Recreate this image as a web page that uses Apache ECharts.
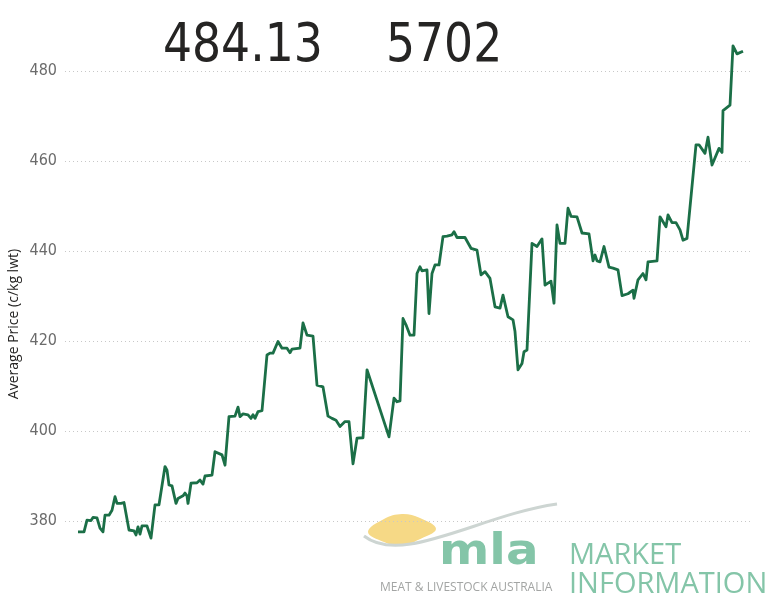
<!DOCTYPE html>
<html>
<head>
<meta charset="utf-8">
<script src="https://cdn.jsdelivr.net/npm/echarts@6/dist/echarts.min.js"></script>
<style>
  html, body { margin: 0; padding: 0; background: #fff; }
  #chart { width: 779px; height: 600px; }
</style>
</head>
<body>
<div id="chart"></div>
<script>
// Day index (relative) of each observation
const days = [0, 6, 9, 11, 13, 15, 19, 22, 25, 27, 31, 34, 37, 39, 43, 46, 51, 56, 58, 60,
  62, 64, 69, 73, 77, 81, 87, 89, 91, 94, 98, 100, 105, 107, 109, 110, 113, 119, 122, 125,
  127, 134, 137, 144, 147, 151, 157, 160, 162, 165, 170, 173, 175, 177, 180, 184, 189, 192, 195, 200,
  204, 209, 212, 214, 222, 225, 229, 235, 239, 245, 250, 254, 258, 262, 267, 271, 275, 279, 285, 289,
  311, 316, 319, 322, 325, 328, 332, 336, 339, 342, 344, 349, 351, 354, 357, 361, 365, 369, 374, 376,
  379, 387, 393, 399, 403, 407, 412, 417, 422, 425, 430, 435, 437, 440, 444, 446, 449, 454, 459, 464,
  467, 473, 476, 479, 482, 487, 490, 493, 499, 504, 511, 515, 517, 519, 522, 526, 531, 535, 540, 544,
  550, 555, 556, 560, 565, 568, 570, 579, 582, 588, 590, 594, 598, 602, 605, 609, 618, 621, 627, 630,
  634, 641, 644, 645, 652, 655, 659, 665];
// Average price (c/kg lwt)
const prices = [377.6, 377.6, 380.2, 380.6, 380.1, 380.8, 380.7, 378.4, 377.6, 381.3, 381.3, 382.4, 385.4, 383.9, 383.9, 384.1, 378.0, 377.8, 376.9, 378.7,
  377.1, 378.9, 378.9, 376.2, 383.6, 383.6, 392.1, 391.3, 388.0, 387.8, 383.9, 385.0, 385.6, 386.2, 385.6, 383.9, 388.4, 388.5, 389.1, 388.2,
  390.0, 390.2, 395.4, 394.7, 392.4, 403.2, 403.3, 405.3, 403.2, 403.8, 403.6, 402.8, 403.6, 402.8, 404.3, 404.5, 416.9, 417.3, 417.3, 419.9,
  418.4, 418.4, 417.4, 418.2, 418.4, 424.0, 421.3, 421.1, 410.2, 409.8, 403.3, 402.8, 402.4, 401.0, 402.1, 402.1, 392.7, 398.4, 398.5, 413.6,
  398.7, 407.3, 406.5, 406.7, 425.0, 423.6, 421.3, 421.3, 435.0, 436.5, 435.6, 435.8, 426.1, 435.0, 436.9, 436.9, 443.2, 443.3, 443.6, 444.3,
  443.0, 443.0, 440.6, 440.2, 434.7, 435.4, 433.9, 427.6, 427.3, 430.2, 425.4, 424.7, 422.1, 413.6, 415.0, 417.6, 418.0, 441.7, 441.0, 442.7,
  432.4, 433.3, 428.4, 445.8, 441.7, 441.7, 449.5, 447.7, 447.6, 444.0, 443.8, 437.8, 439.1, 437.8, 437.6, 441.0, 436.4, 436.2, 435.8, 430.1,
  430.5, 431.3, 429.5, 433.6, 435.0, 433.6, 437.6, 437.8, 447.6, 445.4, 448.0, 446.3, 446.3, 444.7, 442.4, 442.8, 463.6, 463.6, 461.7, 465.3,
  459.1, 462.8, 461.9, 471.2, 472.4, 485.6, 483.8, 484.4];
const yTicks = [380, 400, 420, 440, 460, 480];
const headlinePrice = '484.13';
const headlineHead = '5702';
const yAxisTitle = 'Average Price (c/kg lwt)';

const chart = echarts.init(document.getElementById('chart'), null, { renderer: 'canvas' });
const lineColor = '#1b6f47';
const logoGreen = '#84c5a8';

chart.setOption({
  animation: false,
  backgroundColor: '#ffffff',
  grid: { left: 65, right: 27, top: 26, bottom: 34, containLabel: false },
  xAxis: {
    type: 'value', min: -13, max: 674,
    show: false
  },
  yAxis: {
    type: 'value', min: 370, max: 490, interval: 10,
    axisLine: { show: false }, axisTick: { show: false },
    axisLabel: {
      margin: 8, color: '#6b6b6b', fontSize: 16,
      fontFamily: '"DejaVu Sans Condensed", "DejaVu Sans", sans-serif',
      formatter: v => (yTicks.indexOf(v) >= 0 ? String(v) : '')
    },
    splitLine: { show: false }
  },
  graphic: [
    // MLA watermark logo
    { type: 'polygon', z: 0, shape: { points: [[368, 532], [384, 519], [402, 514], [420, 518], [436, 529], [418, 540], [402, 546], [384, 542]], smooth: 0.4 },
      style: { fill: '#f6d986' } },
    { type: 'bezierCurve', z: 0, shape: { x1: 364, y1: 536, cpx1: 402, cpy1: 566, cpx2: 480, cpy2: 515, x2: 557, y2: 504 },
      style: { fill: null, stroke: '#cdd5d2', lineWidth: 3 } },
    { type: 'text', z: 0, x: 439, y: 574, scaleX: 1.15,
      style: { text: 'mla', fill: logoGreen, fontSize: 42, fontWeight: 'bold', fontFamily: '"DejaVu Sans", sans-serif', verticalAlign: 'bottom', align: 'left' } },
    { type: 'text', z: 0, x: 380, y: 594,
      style: { text: 'MEAT & LIVESTOCK AUSTRALIA', fill: '#a3a5a4', fontSize: 12, fontFamily: '"Open Sans", sans-serif', verticalAlign: 'bottom', align: 'left' } },
    { type: 'text', z: 0, x: 569, y: 570,
      style: { text: 'MARKET', fill: logoGreen, fontSize: 29, fontFamily: '"Open Sans", sans-serif', verticalAlign: 'bottom', align: 'left' } },
    { type: 'text', z: 0, x: 569, y: 599,
      style: { text: 'INFORMATION', fill: logoGreen, fontSize: 29, fontFamily: '"Open Sans", sans-serif', verticalAlign: 'bottom', align: 'left' } },
    // headline figures
    { type: 'text', z: 10, x: 163, y: 47, scaleX: 0.94,
      style: { text: headlinePrice, fill: '#252423', fontSize: 54, fontFamily: '"DejaVu Sans Condensed", "DejaVu Sans", sans-serif', verticalAlign: 'middle', align: 'left' } },
    { type: 'text', z: 10, x: 386, y: 47, scaleX: 0.94,
      style: { text: headlineHead, fill: '#252423', fontSize: 54, fontFamily: '"DejaVu Sans Condensed", "DejaVu Sans", sans-serif', verticalAlign: 'middle', align: 'left' } },
    // y axis title
    { type: 'text', z: 10, x: 14, y: 324, rotation: Math.PI / 2,
      style: { text: yAxisTitle, fill: '#252423', fontSize: 14, fontFamily: '"Open Sans", sans-serif', verticalAlign: 'middle', align: 'center' } }
  ],
  series: [{
    type: 'line',
    z: 1,
    data: [],
    silent: true,
    markLine: {
      silent: true,
      symbol: ['none', 'none'],
      label: { show: false },
      lineStyle: { type: [1, 3], color: '#c8c8c8', width: 1 },
      emphasis: { disabled: true },
      data: yTicks.map(v => ({ yAxis: v }))
    }
  }, {
    type: 'line',
    z: 5,
    data: days.map((d, i) => [d, prices[i]]),
    symbol: 'none',
    lineStyle: { color: lineColor, width: 2.8, join: 'round' },
    clip: false
  }]
});
</script>
</body>
</html>
